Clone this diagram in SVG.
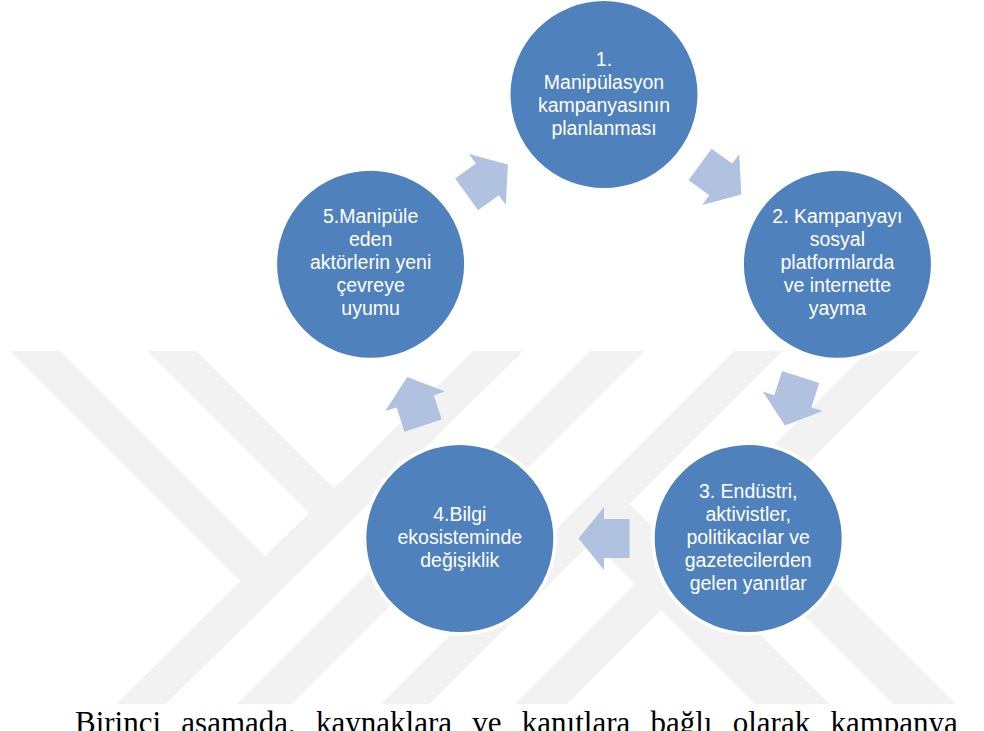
<svg xmlns="http://www.w3.org/2000/svg" xmlns:xlink="http://www.w3.org/1999/xlink" width="984" height="731" viewBox="0 0 984 731">
  <style>
    .wm { fill: #F2F2F2; }
    .node { fill: #4F81BD; stroke: #FFFFFF; stroke-width: 3.5; }
    .arrow { fill: #B0C2DF; }
    .lbl { font-family: "Liberation Sans", Arial, sans-serif; font-size: 19.5px; fill: #FFFFFF; text-anchor: middle; }
    .body { font-family: "Liberation Serif", "Times New Roman", serif; font-size: 31px; fill: #000000; word-spacing: 12.5px; }
  </style>
  <defs>
    <path id="arw" d="M-25.5,-19.5 L0,-19.5 L0,-31.5 L25.5,0 L0,31.5 L0,19.5 L-25.5,19.5 Z"/>
    <clipPath id="wmclip"><rect x="0" y="351" width="984" height="353"/></clipPath>
  </defs>
  <rect x="0" y="0" width="984" height="731" fill="#FFFFFF"/>

  <g id="watermark" clip-path="url(#wmclip)">
    <polygon class="wm" points="10,351 60,351 274.7,565.7 249,590"/>
    <polygon class="wm" points="147,351 197,351 344.5,498.5 319,523"/>
    <polygon class="wm" points="473,351 523,351 153,717 103,717"/>
    <polygon class="wm" points="590,351 645,351 279,717 224,717"/>
    <polygon class="wm" points="735,351 783,351 417,717 369,717"/>
    <polygon class="wm" points="868,351 920,351 554,717 502,717"/>
    <polygon class="wm" points="580.5,529.5 618,492 843,717 768,717"/>
    <polygon class="wm" points="717,528 748.5,496.5 969,717 906,717"/>
  </g>

  <g id="connectors">
    <use xlink:href="#arw" class="arrow" transform="translate(720.7,179.4) rotate(36)"/>
    <use xlink:href="#arw" class="arrow" transform="translate(792.8,401.35) rotate(108)"/>
    <use xlink:href="#arw" class="arrow" transform="translate(604,538.5) rotate(180)"/>
    <use xlink:href="#arw" class="arrow" transform="translate(415.2,401.35) rotate(252)"/>
    <use xlink:href="#arw" class="arrow" transform="translate(487.3,179.4) rotate(-36)"/>
  </g>

  <g id="node1">
    <circle class="node" cx="604" cy="94.6" r="95.25"/>
    <text class="lbl" x="604" y="65.6">1.</text>
    <text class="lbl" x="604" y="88.6">Manipülasyon</text>
    <text class="lbl" x="604" y="111.6">kampanyasının</text>
    <text class="lbl" x="604" y="134.6">planlanması</text>
  </g>

  <g id="node2">
    <circle class="node" cx="837.4" cy="264.2" r="95.25"/>
    <text class="lbl" x="837.4" y="223.2">2. Kampanyayı</text>
    <text class="lbl" x="837.4" y="246.2">sosyal</text>
    <text class="lbl" x="837.4" y="269.2">platformlarda</text>
    <text class="lbl" x="837.4" y="292.2">ve internette</text>
    <text class="lbl" x="837.4" y="315.2">yayma</text>
  </g>

  <g id="node3">
    <circle class="node" cx="748.2" cy="538.5" r="95.25"/>
    <text class="lbl" x="748.2" y="497.5">3. Endüstri,</text>
    <text class="lbl" x="748.2" y="520.5">aktivistler,</text>
    <text class="lbl" x="748.2" y="543.5">politikacılar ve</text>
    <text class="lbl" x="748.2" y="566.5">gazetecilerden</text>
    <text class="lbl" x="748.2" y="589.5">gelen yanıtlar</text>
  </g>

  <g id="node4">
    <circle class="node" cx="459.8" cy="538.5" r="95.25"/>
    <text class="lbl" x="459.8" y="520.5">4.Bilgi</text>
    <text class="lbl" x="459.8" y="543.5">ekosisteminde</text>
    <text class="lbl" x="459.8" y="566.5">değişiklik</text>
  </g>

  <g id="node5">
    <circle class="node" cx="370.6" cy="264.2" r="95.25"/>
    <text class="lbl" x="370.6" y="223.2">5.Manipüle</text>
    <text class="lbl" x="370.6" y="246.2">eden</text>
    <text class="lbl" x="370.6" y="269.2">aktörlerin yeni</text>
    <text class="lbl" x="370.6" y="292.2">çevreye</text>
    <text class="lbl" x="370.6" y="315.2">uyumu</text>
  </g>

  <text class="body" x="75" y="733">Birinci aşamada, kaynaklara ve kanıtlara bağlı olarak kampanya</text>
</svg>
